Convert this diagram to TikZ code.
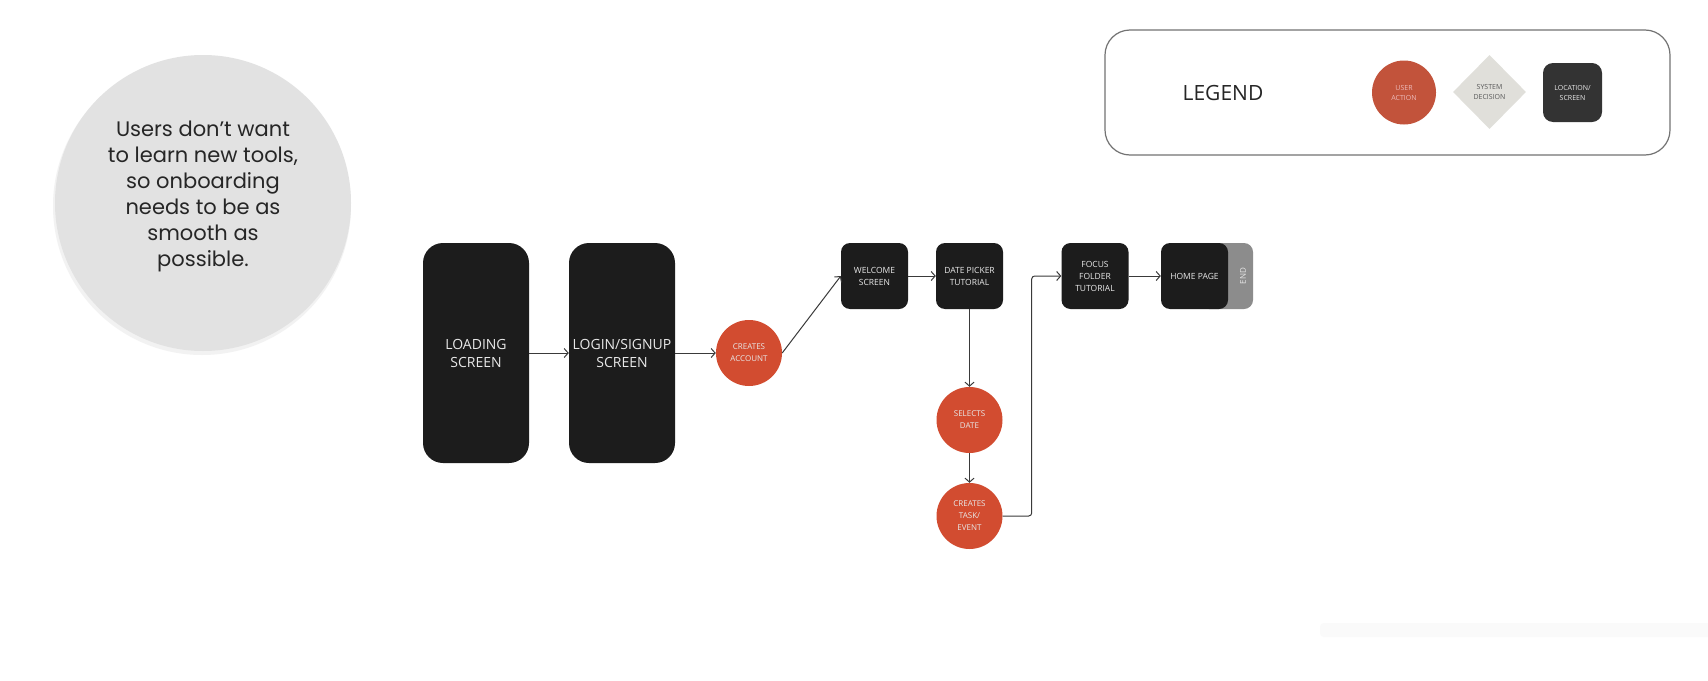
\documentclass[tikz,border=0pt]{standalone}
\usepackage{fontspec}
\setmainfont{Open Sans}
\newfontfamily\quotefont{Poppins}
\usetikzlibrary{arrows.meta,shapes.geometric}
\definecolor{flowdark}{HTML}{1C1C1C}
\definecolor{flowred}{HTML}{D24C30}
\definecolor{legendred}{HTML}{C2533B}
\definecolor{quotegray}{HTML}{E2E2E2}
\definecolor{diamondgray}{HTML}{E0DFDA}
\definecolor{endgray}{HTML}{8C8C8C}
\definecolor{linegray}{HTML}{3A3A3A}
\definecolor{labelwhite}{HTML}{E8E8E8}
\begin{document}
\begin{tikzpicture}[x=1pt,y=-1pt,
  screen/.style={fill=flowdark,rounded corners=20pt,text=labelwhite,align=center,inner sep=0pt,
    minimum width=106pt,minimum height=220pt,font=\fontsize{14}{18}\selectfont},
  smallscreen/.style={fill=flowdark,rounded corners=9pt,text=labelwhite,align=center,inner sep=0pt,
    minimum width=67pt,minimum height=66pt,font=\fontsize{8.5}{12}\selectfont},
  action/.style={circle,fill=flowred,minimum size=66pt,inner sep=0pt,text=labelwhite,align=center,
    font=\fontsize{8}{12}\selectfont},
  legendlabel/.style={align=center,inner sep=0pt,font=\fontsize{7}{10}\selectfont},
  flow/.style={draw=linegray,line width=1pt,-{Straight Barb[length=4pt,width=9pt]}}]
% Page
\useasboundingbox (0,0) rectangle (1708,680);
\fill[white] (0,0) rectangle (1708,680);
% faint strip at the bottom
\fill[black!2,rounded corners=4pt] (1320,623) rectangle (1720,637);

% the quote bubble
\fill[black!5] (202,206) circle (149);
\node[circle,fill=quotegray,minimum size=296pt,inner sep=0pt] (quote) at (203,203) {};
\node[align=center,text=black!85,font=\quotefont\fontsize{21}{26}\selectfont] (quotetext) at (203,196)
  {Users don’t want\\to learn new tools,\\so onboarding\\needs to be as\\smooth as\\possible.};

% Legend
\draw[draw=black!55,line width=1.2pt,rounded corners=25pt] (1105,30) rectangle (1670,155);
\node[text=black!85,font=\fontsize{21}{24}\selectfont] (legend) at (1223,93) {LEGEND};
\node[legendlabel,circle,fill=legendred,minimum size=64pt,text=red!20!labelwhite] (legaction) at (1404,92.5) {USER\\ACTION};
\node[legendlabel,diamond,fill=diamondgray,minimum width=73pt,minimum height=74pt,text=black!65] (legdecision) at (1489.5,92) {SYSTEM\\DECISION};
\node[legendlabel,fill=flowdark!90!white,rounded corners=10pt,minimum width=59pt,minimum height=59pt,
  text=labelwhite] (legscreen) at (1572.5,92.5) {LOCATION/\\SCREEN};

% Screens and actions
\node[screen] (load) at (476,353) {LOADING\\SCREEN};
\node[screen] (login) at (622,353) {LOGIN/SIGNUP\\SCREEN};
\node[action] (account) at (749,353) {CREATES\\ACCOUNT};
\node[smallscreen] (welcome) at (874.5,276) {WELCOME\\SCREEN};
\node[smallscreen] (datepick) at (969.5,276) {DATE PICKER\\TUTORIAL};
\node[action] (selects) at (969.5,420) {SELECTS\\DATE};
\node[action] (task) at (969.5,516) {CREATES\\TASK/\\EVENT};
\node[smallscreen] (focus) at (1095,276) {FOCUS\\FOLDER\\TUTORIAL};
% end tab sits behind the home page
\node[fill=endgray,rounded corners=9pt,minimum width=53pt,minimum height=66pt,inner sep=0pt] (endtab) at (1226.5,276) {};
\node[rotate=90,text=labelwhite,font=\fontsize{8}{10}\selectfont] (endlabel) at (1243,276) {END};
\node[smallscreen] (home) at (1194.5,276) {HOME PAGE};

% Connectors
\draw[flow] (load) -- (login);
\draw[flow] (login) -- (account);
\draw[flow] (account.east) -- (welcome.west);
\draw[flow] (welcome) -- (datepick);
\draw[flow] (datepick) -- (selects);
\draw[flow] (selects) -- (task);
\draw[flow,rounded corners=3pt] (task.east) -- ++(29,0) |- (focus.west);
\draw[flow] (focus) -- (home);
\end{tikzpicture}
\end{document}
